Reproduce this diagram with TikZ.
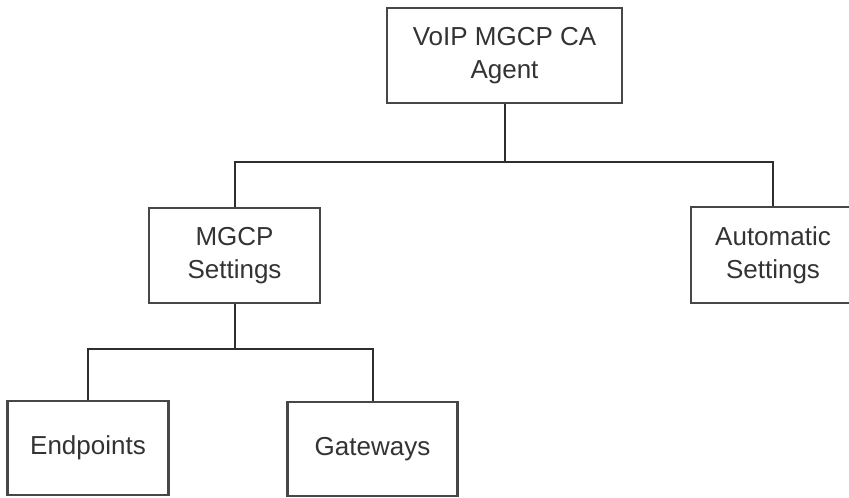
\documentclass[tikz,border=0pt]{standalone}
\usepackage{fontspec}
\setmainfont{Liberation Sans}
\usetikzlibrary{calc}
\begin{document}
\begin{tikzpicture}[x=1pt,y=-1pt,
  box/.style={draw=boxc, line width=2.6pt, fill=white, text=txtc, align=center,
    inner sep=0pt, font=\fontsize{26}{33}\selectfont},
  conn/.style={draw=linec, line width=2pt}]
\definecolor{boxc}{HTML}{474747}
\definecolor{linec}{HTML}{2E2E2E}
\definecolor{txtc}{HTML}{333333}
\useasboundingbox (0,0) rectangle (849,498);
\fill[white] (0,0) rectangle (849,498);
\node[box, minimum width=235pt, minimum height=95pt] (top) at (504.5,55.5) {VoIP MGCP CA\\Agent};
\node[box, minimum width=171pt, minimum height=95pt] (mgcp) at (234.5,255.5) {MGCP\\Settings};
\node[box, minimum width=164pt, minimum height=96pt] (auto) at (773,255) {Automatic\\Settings};
\node[box, minimum width=161pt, minimum height=94pt] (endp) at (88,448) {Endpoints};
\node[box, minimum width=170pt, minimum height=94pt] (gate) at (372.5,449) {Gateways};
\coordinate (j1) at ($(top.south)+(0,58)$);
\coordinate (j2) at ($(mgcp.south)+(0,45)$);
\draw[conn] (top.south) -- (j1);
\draw[conn] (j1) -| (mgcp.north);
\draw[conn] (j1) -| (auto.north);
\draw[conn] (mgcp.south) -- (j2);
\draw[conn] (j2) -| (endp.north);
\draw[conn] (j2) -| (gate.north);
\end{tikzpicture}
\end{document}
